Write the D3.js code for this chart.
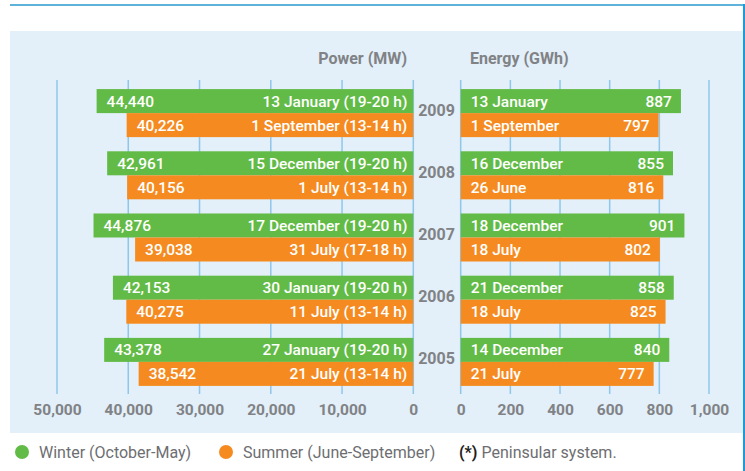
<!DOCTYPE html>
<html>
<head>
<meta charset="utf-8">
<script src="https://cdn.jsdelivr.net/npm/d3@7"></script>
<style>
  body { margin: 0; background: #fff; }
  svg { display: block; font-family: Roboto, "DejaVu Sans", sans-serif; }
</style>
</head>
<body>
<div id="chart"></div>
<script>
// data (peak demand, peninsular system)
var years = ["2009", "2008", "2007", "2006", "2005"];

var winterPower = [44440, 42961, 44876, 42153, 43378];
var summerPower = [40226, 40156, 39038, 40275, 38542];
var winterPowerDate = ["13 January (19-20 h)", "15 December (19-20 h)", "17 December (19-20 h)", "30 January (19-20 h)", "27 January (19-20 h)"];
var summerPowerDate = ["1 September (13-14 h)", "1 July (13-14 h)", "31 July (17-18 h)", "11 July (13-14 h)", "21 July (13-14 h)"];

var winterEnergy = [887, 855, 901, 858, 840];
var summerEnergy = [797, 816, 802, 825, 777];
var winterEnergyDate = ["13 January", "16 December", "18 December", "21 December", "14 December"];
var summerEnergyDate = ["1 September", "26 June", "18 July", "18 July", "21 July"];

var powerTicks = [50000, 40000, 30000, 20000, 10000, 0];
var energyTicks = [0, 200, 400, 600, 800, 1000];

var seasons = ["Winter (October-May)", "Summer (June-September)"];
var colors = ["#62bb46", "#f58b20"];

var W = 745, H = 471;

var svg = d3.select("#chart").append("svg")
  .attr("width", W)
  .attr("height", H);

// panel background + frame lines
svg.append("rect")
  .attr("x", 10).attr("y", 31)
  .attr("width", 733).attr("height", 402)
  .attr("fill", "#e3eff9");

svg.append("line")
  .attr("x1", 10).attr("x2", 744)
  .attr("y1", 5).attr("y2", 5)
  .attr("stroke", "#5fb2da").attr("stroke-width", 2);

svg.append("line")
  .attr("x1", 744).attr("x2", 744)
  .attr("y1", 4).attr("y2", H)
  .attr("stroke", "#1b9bd7").attr("stroke-width", 2);

// scales
var xPow = d3.scaleLinear().domain([0, 50000]).range([413.3, 57]);
var xEn = d3.scaleLinear().domain([0, 1000]).range([460.7, 709]);

var y = d3.scaleBand()
  .domain(years)
  .range([82, 393])
  .paddingInner(0.228)
  .paddingOuter(0.114);

var half = y.bandwidth() / 2;

var gridTop = 80, gridBottom = 394;

// grid lines
function grid(scale, ticks) {
  svg.append("g").selectAll("line")
    .data(ticks)
    .enter()
    .append("line")
    .attr("x1", function(d) { return scale(d); })
    .attr("x2", function(d) { return scale(d); })
    .attr("y1", gridTop)
    .attr("y2", gridBottom)
    .attr("stroke", "#8ec7ea")
    .attr("stroke-width", 1.5);
}
grid(xPow, powerTicks);
grid(xEn, energyTicks);

// axis labels (bottom)
function axisLabels(scale, ticks) {
  var ax = d3.axisBottom(scale)
    .tickValues(ticks)
    .tickSize(0)
    .tickPadding(0)
    .tickFormat(d3.format(",.0f"));
  var g = svg.append("g")
    .attr("transform", "translate(0,404)")
    .call(ax);
  g.select(".domain").remove();
  g.selectAll("text")
    .attr("font-family", "Roboto, sans-serif")
    .attr("font-size", 15.5)
    .attr("font-weight", "bold")
    .attr("fill", "#808285");
}
axisLabels(xPow, powerTicks);
axisLabels(xEn, energyTicks);

// headers
svg.append("text")
  .attr("x", 407).attr("y", 58)
  .attr("dy", ".35em")
  .attr("text-anchor", "end")
  .attr("font-size", 16).attr("font-weight", "bold")
  .attr("fill", "#808285")
  .text("Power (MW)");

svg.append("text")
  .attr("x", 470).attr("y", 58)
  .attr("dy", ".35em")
  .attr("font-size", 16).attr("font-weight", "bold")
  .attr("fill", "#808285")
  .text("Energy (GWh)");

// one row per year
var rows = years.map(function(yr, i) {
  return {
    year: yr,
    bars: [
      { s: 0, pow: winterPower[i], pDate: winterPowerDate[i], en: winterEnergy[i], eDate: winterEnergyDate[i] },
      { s: 1, pow: summerPower[i], pDate: summerPowerDate[i], en: summerEnergy[i], eDate: summerEnergyDate[i] }
    ]
  };
});

var row = svg.selectAll(".row")
  .data(rows)
  .enter()
  .append("g")
  .attr("class", "row")
  .attr("transform", function(d) { return "translate(0," + y(d.year) + ")"; });

// year label in the middle
row.append("text")
  .attr("x", 436.5)
  .attr("y", half - 3)
  .attr("dy", ".35em")
  .attr("text-anchor", "middle")
  .attr("font-size", 16).attr("font-weight", "bold")
  .attr("fill", "#808285")
  .text(function(d) { return d.year; });

var bar = row.selectAll(".bar")
  .data(function(d) { return d.bars; })
  .enter()
  .append("g")
  .attr("class", "bar")
  .attr("transform", function(d) { return "translate(0," + d.s * half + ")"; });

// power bars (grow to the left)
bar.append("rect")
  .attr("x", function(d) { return xPow(d.pow); })
  .attr("y", 0)
  .attr("width", function(d) { return xPow(0) - xPow(d.pow); })
  .attr("height", half)
  .attr("fill", function(d) { return colors[d.s]; });

// energy bars (grow to the right)
bar.append("rect")
  .attr("x", xEn(0))
  .attr("y", 0)
  .attr("width", function(d) { return xEn(d.en) - xEn(0); })
  .attr("height", half)
  .attr("fill", function(d) { return colors[d.s]; });

function label(sel, xf, anchor, txt) {
  sel.append("text")
    .attr("x", xf)
    .attr("y", half / 2)
    .attr("dy", ".36em")
    .attr("text-anchor", anchor)
    .attr("font-size", 15.5)
    .attr("font-weight", 500)
    .attr("fill", "#fff")
    .text(txt);
}

label(bar, function(d) { return xPow(d.pow) + 10; }, "start", function(d) { return d3.format(",")(d.pow); });
label(bar, function(d) { return xPow(0) - 6; }, "end", function(d) { return d.pDate; });
label(bar, function(d) { return xEn(0) + 10; }, "start", function(d) { return d.eDate; });
label(bar, function(d) { return xEn(d.en) - 9; }, "end", function(d) { return d3.format(",")(d.en); });

// legend
var legend = svg.append("g").attr("transform", "translate(0,452)");

var legX = [22, 226];
var item = legend.selectAll(".leg")
  .data(seasons)
  .enter()
  .append("g")
  .attr("class", "leg")
  .attr("transform", function(d, i) { return "translate(" + legX[i] + ",0)"; });

item.append("circle")
  .attr("r", 7)
  .attr("fill", function(d, i) { return colors[i]; });

item.append("text")
  .attr("x", 17)
  .attr("dy", ".35em")
  .attr("font-size", 16)
  .attr("fill", "#6d6e71")
  .text(function(d) { return d; });

var note = legend.append("text")
  .attr("x", 459)
  .attr("dy", ".35em")
  .attr("font-size", 16)
  .attr("fill", "#6d6e71");
note.append("tspan").attr("font-weight", "bold").attr("fill", "#231f20").text("(*)");
note.append("tspan").text(" Peninsular system.");
</script>
</body>
</html>
